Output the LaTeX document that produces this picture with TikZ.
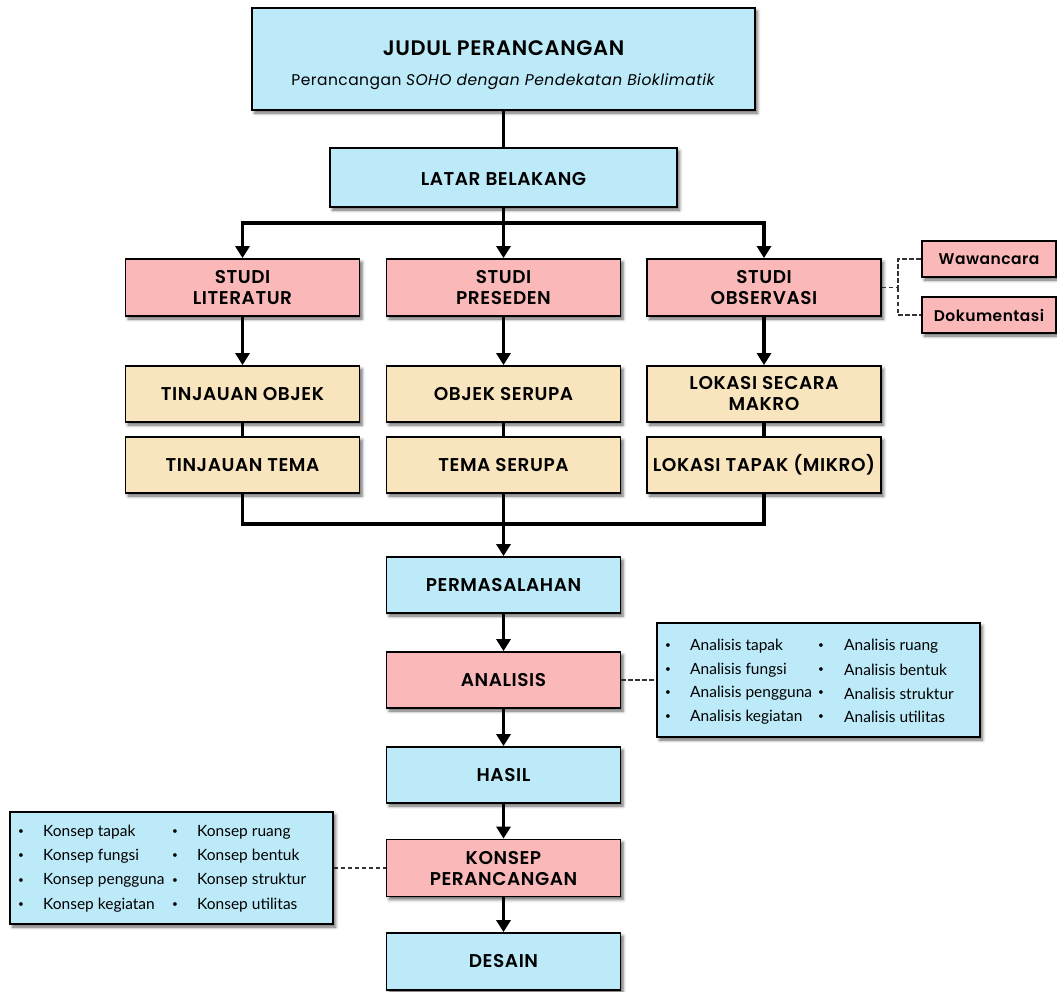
\documentclass[tikz,border=0pt]{standalone}
\usepackage{fontspec}
\setmainfont{Poppins}[BoldFont={Poppins SemiBold}, LetterSpace=3]
\newfontfamily\listfont{Lato}
\usetikzlibrary{arrows.meta,shadows.blur}

\definecolor{boxblue}{HTML}{BDEAF9}
\definecolor{boxpink}{HTML}{FAB8B8}
\definecolor{boxsand}{HTML}{F8E5BE}

\tikzset{
  card/.style={draw=black, line width=1.8pt, rectangle, align=center, inner sep=2pt,
    font=\fontsize{18.5}{21}\selectfont\bfseries,
    blur shadow={shadow xshift=2.5pt, shadow yshift=-3pt, shadow blur radius=3pt, shadow opacity=60}},
  bluecard/.style={card, fill=boxblue},
  pinkcard/.style={card, fill=boxpink},
  sandcard/.style={card, fill=boxsand},
  std/.style={minimum width=234pt, minimum height=56pt},
  tag/.style={pinkcard, minimum width=134pt, minimum height=36pt, font=\fontsize{15.5}{18}\selectfont\bfseries},
  flow/.style={line width=3.5pt, -{Triangle[width=14pt,length=12pt]}},
  link/.style={line width=3.5pt},
  aside/.style={draw=black!80, line width=1.3pt, dash pattern=on 4.5pt off 2.5pt},
  item/.style={anchor=west, inner sep=0pt, font=\listfont\fontsize{15.5}{18}\selectfont},
  dot/.style={inner sep=0pt, font=\listfont\fontsize{10}{12}\selectfont},
}

\begin{document}
\begin{tikzpicture}[x=1pt, y=-1pt]
\useasboundingbox (0,0) rectangle (1057,991);

% main column
\node[bluecard, minimum width=503pt, minimum height=102pt] (judul) at (503.5,59)
  {\raisebox{-7pt}[\height][\depth]{\begin{tabular}{@{}c@{}}
     {\fontsize{21}{25}\selectfont JUDUL PERANCANGAN}\\[9pt]
     {\mdseries\fontsize{15.5}{18}\selectfont Perancangan \textit{SOHO dengan Pendekatan Bioklimatik}}
   \end{tabular}}};
\node[bluecard, minimum width=347pt, minimum height=59pt] (latar) at (503.5,177.5) {\raisebox{-2pt}[\height][\depth]{LATAR BELAKANG}};

% three study branches
\node[pinkcard, std, minimum height=57pt] (lit) at (242.5,287.5) {STUDI\\LITERATUR};
\node[pinkcard, std, minimum height=57pt] (pre) at (503.5,287.5) {STUDI\\PRESEDEN};
\node[pinkcard, std, minimum height=57pt] (obs) at (764,287.5) {STUDI\\OBSERVASI};

\node[tag] (waw) at (989,259) {Wawancara};
\node[tag] (dok) at (989,315) {Dokumentasi};

\node[sandcard, std] (tobj) at (242.5,394) {TINJAUAN OBJEK};
\node[sandcard, std] (ttem) at (242.5,465) {TINJAUAN TEMA};
\node[sandcard, std] (oser) at (503.5,394) {OBJEK SERUPA};
\node[sandcard, std] (tser) at (503.5,465) {TEMA SERUPA};
\node[sandcard, std] (lmak) at (764,394) {LOKASI SECARA\\MAKRO};
\node[sandcard, std] (lmik) at (764,465) {LOKASI TAPAK (MIKRO)};

% lower column
\node[bluecard, std] (perm) at (503.5,585) {PERMASALAHAN};
\node[pinkcard, std] (anal) at (503.5,680) {ANALISIS};
\node[bluecard, std] (hasil) at (503.5,775) {HASIL};
\node[pinkcard, std, minimum height=57pt] (kons) at (503.5,868) {KONSEP\\PERANCANGAN};
\node[bluecard, std, minimum height=57pt] (desain) at (503.5,961.5) {DESAIN};

% side lists
\node[bluecard, minimum width=323pt, minimum height=114pt] (alist) at (818.5,680) {};
\node[bluecard, minimum width=323pt, minimum height=112pt] (klist) at (171.5,868) {};

\foreach \t [count=\i] in {Analisis tapak, Analisis fungsi, Analisis pengguna, Analisis kegiatan} {
  \node[dot] (ab\i) at (668,{646+23.7*(\i-1)}) {\textbullet};
  \node[item] (at\i) at (690,{646+23.7*(\i-1)}) {\t};
}
\foreach \t [count=\i] in {Analisis ruang, Analisis bentuk, Analisis struktur, Analisis utilitas} {
  \node[dot] (ac\i) at (821,{646+23.7*(\i-1)}) {\textbullet};
  \node[item] (au\i) at (844,{646+23.7*(\i-1)}) {\t};
}
\foreach \t [count=\i] in {Konsep tapak, Konsep fungsi, Konsep pengguna, Konsep kegiatan} {
  \node[dot] (kb\i) at (21,{832+24.3*(\i-1)}) {\textbullet};
  \node[item] (kt\i) at (43,{832+24.3*(\i-1)}) {\t};
}
\foreach \t [count=\i] in {Konsep ruang, Konsep bentuk, Konsep struktur, Konsep utilitas} {
  \node[dot] (kc\i) at (175,{832+24.3*(\i-1)}) {\textbullet};
  \node[item] (ku\i) at (197,{832+24.3*(\i-1)}) {\t};
}

% connectors
\draw[link] (judul.south) -- (latar.north);
\draw[flow] (latar.south) -- (pre.north);
\draw[flow] (latar.south) -- ++(0,15) -| (lit.north);
\draw[flow] (latar.south) -- ++(0,15) -| (obs.north);

\draw[flow] (lit.south) -- (tobj.north);
\draw[flow] (pre.south) -- (oser.north);
\draw[flow] (obs.south) -- (lmak.north);
\draw[link] (tobj.south) -- (ttem.north);
\draw[link] (oser.south) -- (tser.north);
\draw[link] (lmak.south) -- (lmik.north);

\draw[link] (ttem.south) -- ++(0,30) -| (lmik.south);
\draw[flow] (tser.south) -- (perm.north);
\draw[flow] (perm.south) -- (anal.north);
\draw[flow] (anal.south) -- (hasil.north);
\draw[flow] (hasil.south) -- (kons.north);
\draw[flow] (kons.south) -- (desain.north);

\draw[aside] (obs.east) -- ++(16,0) coordinate (fork) |- (waw.west);
\draw[aside] (fork) |- (dok.west);
\draw[aside] (anal.east) -- (alist.west);
\draw[aside] (klist.east) -- (kons.west);
\end{tikzpicture}
\end{document}
